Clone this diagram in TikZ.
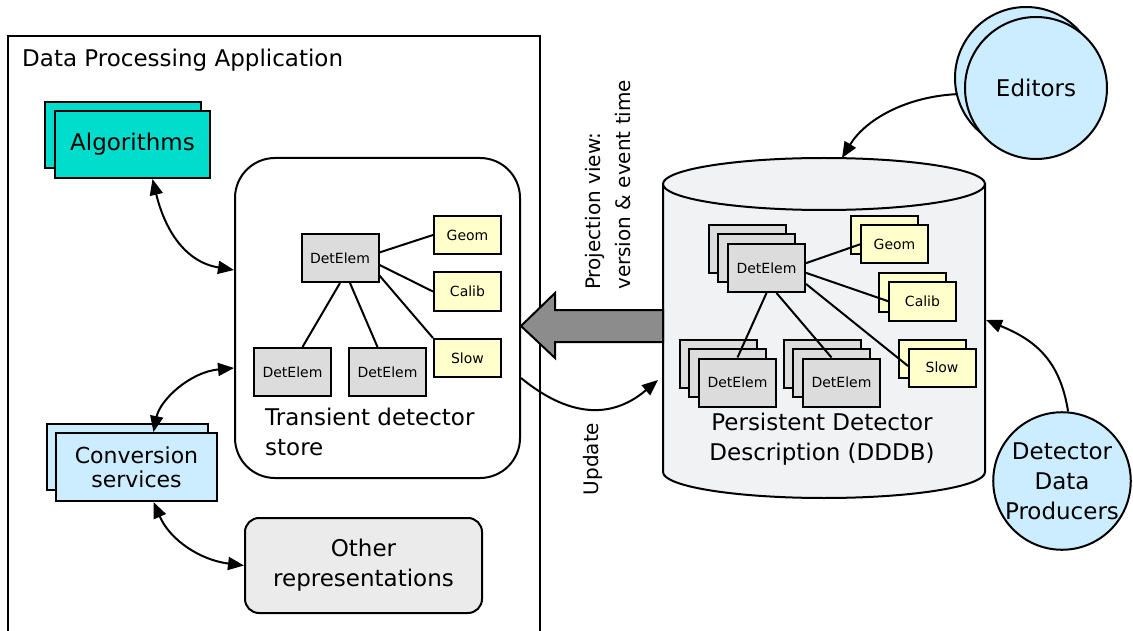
\documentclass[tikz,border=0pt]{standalone}
\usepackage{fontspec}
\setmainfont{DejaVu Sans}
\usepackage{tikz}
\usetikzlibrary{arrows.meta,calc,positioning}
\definecolor{algcyan}{HTML}{00DDCC}
\definecolor{svcblue}{HTML}{CCECFF}
\definecolor{condyel}{HTML}{FFFFCC}
\definecolor{elemgray}{HTML}{DCDCDC}
\definecolor{othgray}{HTML}{EBEBEB}
\definecolor{dbgray}{HTML}{F1F2F4}
\definecolor{projgray}{HTML}{8C8C8C}
\tikzset{
  >={Triangle[length=16pt,width=13pt]},
  big/.style={font=\fontsize{23}{30}\selectfont,align=center},
  small/.style={font=\fontsize{14}{17}\selectfont},
  rot/.style={font=\fontsize{20}{30}\selectfont,align=left,rotate=90,inner sep=0pt},
  frame/.style={draw=black,line width=2pt},
  layer/.style={frame,inner sep=0pt},
  detelem/.style={layer,fill=elemgray,small,minimum width=77pt,minimum height=48pt},
  cond/.style={layer,fill=condyel,small,minimum width=67pt,minimum height=38pt},
  link/.style={line width=2pt},
  flow/.style={line width=2pt,->},
  flowboth/.style={line width=2pt,<->}
}
\begin{document}
\begin{tikzpicture}[x=1pt,y=-1pt]
  \useasboundingbox (0,0) rectangle (1133,631);

  \draw[frame] (8,631) -- (8,36) -- (540,36) -- (540,631);
  \node[big,anchor=base west,inner sep=0pt] (apptitle) at (22,67) {Data Processing Application};

  \node[layer,fill=algcyan,minimum width=156pt,minimum height=66pt] (algback) at (123,135) {};
  \node[layer,fill=algcyan,big,minimum width=155pt,minimum height=67pt] (alg) at (132.5,144.5) {Algorithms};

  \node[layer,fill=svcblue,minimum width=161pt,minimum height=66pt] (convback) at (127.5,457) {};
  \node[layer,fill=svcblue,big,font=\fontsize{22}{24}\selectfont,
        minimum width=161pt,minimum height=68pt] (conv) at (136.5,467) {Conversion\\services};

  \node[layer,fill=othgray,big,rounded corners=14pt,
        minimum width=237pt,minimum height=95pt] (other) at (363.5,565.5) {Other\\representations};

  \node[layer,rounded corners=40pt,minimum width=285pt,minimum height=320pt] (store) at (377.5,318) {};
  \node[detelem] (tde) at (340,258) {DetElem};
  \node[cond] (tgeom) at (467.5,235) {Geom};
  \node[cond] (tcal) at (467.5,291.5) {Calib};
  \node[cond] (tslow) at (467.5,358) {Slow};
  \node[detelem] (tdeL) at (292.5,372) {DetElem};
  \node[detelem] (tdeM) at (387.5,372) {DetElem};
  \draw[link] (tde.8) -- (tgeom.west);
  \draw[link] (tde.-10) -- (tcal.west);
  \draw[link] (tde.-24) -- (tslow.north west);
  \draw[link] (tde.south) -- ($(tdeL.north)+(10,0)$);
  \draw[link] ($(tde.south)+(10,0)$) -- ($(tdeM.north)+(-10,0)$);
  \node[big,align=left,anchor=west,inner sep=0pt] (storelabel) at (265,432) {Transient detector\\store};

  \path[frame,fill=dbgray] (663,184) -- (663,472)
    arc[start angle=180,end angle=0,x radius=161,y radius=26] -- (985,184) -- cycle;
  \draw[frame,fill=dbgray] (824,184) ellipse[x radius=161,y radius=26];
  \coordinate (ddbtop) at (842,158);
  \coordinate (ddbright) at (986,320);
  \coordinate (ddbwall) at (663,326);
  \coordinate (ddbupd) at (658,380);

  \foreach \d in {19,10} {
    \node[detelem] at (766.5-\d,268-\d) {};
    \node[detelem] at (737.5-\d,382.5-\d) {};
    \node[detelem] at (841.5-\d,382.5-\d) {};
  }
  \node[cond] at (884.5,235) {};
  \node[cond] at (912.5,292.5) {};
  \node[cond] at (932,358.5) {};
  \node[detelem] (pde) at (766.5,268) {DetElem};
  \node[detelem] (pdeL) at (737.5,382.5) {DetElem};
  \node[detelem] (pdeM) at (841.5,382.5) {DetElem};
  \draw[link] (pde.7) -- (894.5-33.5,244);
  \node[cond] (pgeom) at (894.5,244) {Geom};
  \draw[link] (pde.-7) -- (922.5-33.5,301.5);
  \node[cond] (pcal) at (922.5,301.5) {Calib};
  \draw[link] (pde.-22) -- (942-34,366);
  \node[cond] (pslow) at (942,367.5) {Slow};
  \draw[link] (pde.south) -- (pdeL.north);
  \draw[link] ($(pde.south)+(10,0)$) -- ($(pdeM.north)+(-10,0)$);
  \node[big,inner sep=0pt] (ddblabel) at (822,439) {Persistent Detector\\Description (DDDB)};

  \coordinate (projtip) at (521,326);
  \path[frame,fill=projgray] ($(ddbwall)+(0,-16)$) -- ($(projtip)+(34,-16)$) -- ($(projtip)+(34,-33)$)
    -- (projtip) -- ($(projtip)+(34,32)$) -- ($(projtip)+(34,16)$) -- ($(ddbwall)+(0,16)$) -- cycle;
  \node[rot,anchor=west] (projlabel) at (608,290) {Projection view:\\version \& event time};
  \draw[flow] ($(store.east)+(0,60)$) .. controls (560,410) and (605,425) .. (ddbupd);
  \node[rot] (updlabel) at (593,459) {Update};

  \node[circle,frame,fill=svcblue,minimum size=142pt] (edback) at (1026,78) {};
  \node[circle,frame,fill=svcblue,big,minimum size=142pt] (editors) at (1036,88) {Editors};
  \draw[flow] (edback.193) .. controls (905,97) and (865,120) .. (ddbtop);

  \node[circle,frame,fill=svcblue,big,inner sep=0pt,minimum size=132pt] (producers) at (1062,481)
    {Detector\\Data\\Producers};
  \draw[flow] (producers.85) .. controls (1060,360) and (1035,340) .. (ddbright);

  \draw[flowboth] ($(alg.south)+(20,0)$) .. controls (165,230) and (185,262) .. ($(store.west)+(0,-48)$);
  \draw[flowboth] ($(store.west)+(0,50)$) .. controls (190,372) and (160,400) .. ($(conv.north)+(17,0)$);
  \draw[flowboth] ($(conv.south)+(17,0)$) .. controls (170,540) and (200,560) .. (other.west);
\end{tikzpicture}
\end{document}
